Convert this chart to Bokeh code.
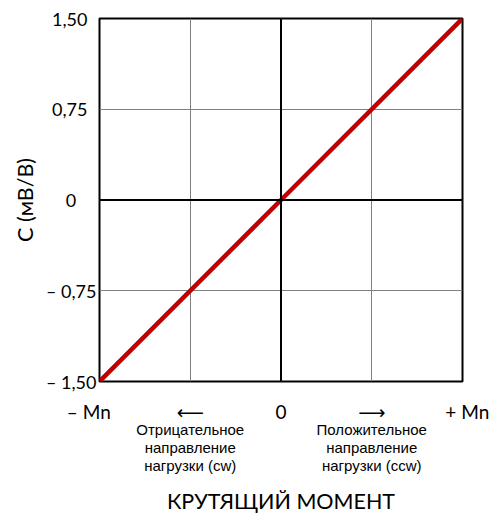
from bokeh.plotting import figure
from bokeh.models import Span, FixedTicker, Range1d, LinearAxis
from bokeh.embed import file_html
from bokeh.resources import INLINE

# ---- data ----
torque = [-1.0, 0.0, 1.0]            # -Mn .. +Mn
signal = [-1.5, 0.0, 1.5]            # mV/V
x_ticks = [-1.0, -0.5, 0.0, 0.5, 1.0]
x_tick_labels = ["– Mn\u2002\u2002\u2009", "⟵", "0", "⟶", "\u2002+ Mn"]
x_grid = [-1.0, -0.5, 0.0, 0.5, 1.0]
y_ticks = [-1.5, -0.75, 0.0, 0.75, 1.5]
# trailing en/thin spaces keep the right-aligned tick labels visually centred
y_tick_labels = ["– 1,50", "– 0,75", "0\u2002\u2002\u2009", "0,75\u2002", "1,50\u2002"]
note_ticks = [-0.5, 0.5]
note_labels = ["Отрицательное\nнаправление\nнагрузки (cw)",
               "Положительное\nнаправление\nнагрузки (ccw)"]
x_title = "КРУТЯЩИЙ МОМЕНТ"
y_title = "C (мВ/В)"

FONT = "Lato"

p = figure(frame_width=363, frame_height=363, output_backend="svg",
           toolbar_location=None,
           x_range=Range1d(-1, 1), y_range=Range1d(-1.5, 1.5),
           x_axis_location=None, y_axis_location=None,
           min_border_left=99, min_border_right=28, min_border_top=18,
           min_border_bottom=118)
p.outline_line_color = "black"
p.outline_line_width = 2
p.xgrid.ticker = FixedTicker(ticks=x_grid)
p.ygrid.ticker = FixedTicker(ticks=y_ticks)
p.grid.grid_line_color = "#808080"
p.grid.grid_line_width = 1


def clean(ax):
    ax.axis_line_color = None
    ax.major_tick_line_color = None
    ax.minor_tick_line_color = None
    ax.major_tick_out = 0
    ax.major_tick_in = 0
    ax.minor_tick_out = 0
    ax.minor_tick_in = 0
    ax.major_label_text_color = "black"
    ax.axis_label_text_color = "black"
    ax.axis_label_text_font_style = "normal"


yax = LinearAxis(ticker=FixedTicker(ticks=y_ticks),
                 major_label_overrides={v: t for v, t in zip(y_ticks, y_tick_labels)},
                 axis_label=y_title)
clean(yax)
yax.major_label_text_font = FONT + ", DejaVu Sans"
yax.major_label_text_font_size = "18px"
yax.major_label_standoff = 3
yax.axis_label_text_font = FONT
yax.axis_label_text_font_size = "21.5px"
yax.axis_label_standoff = 5
p.add_layout(yax, "left")

xax = LinearAxis(ticker=FixedTicker(ticks=x_ticks),
                 major_label_overrides={v: t for v, t in zip(x_ticks, x_tick_labels)})
clean(xax)
xax.major_label_text_font = FONT + ", DejaVu Sans"
xax.major_label_text_font_size = "19px"
xax.major_label_standoff = 18
p.add_layout(xax, "below")

nax = LinearAxis(ticker=FixedTicker(ticks=note_ticks),
                 major_label_overrides={v: t for v, t in zip(note_ticks, note_labels)},
                 axis_label=x_title)
clean(nax)
nax.major_label_text_font = "Liberation Sans"
nax.major_label_text_font_size = "15px"
nax.major_label_text_line_height = 1.08
nax.major_label_standoff = -5
nax.axis_label_text_font = FONT
nax.axis_label_text_font_size = "21.5px"
nax.axis_label_standoff = 11
p.add_layout(nax, "below")

p.add_layout(Span(location=0, dimension="height", line_color="black", line_width=2))
p.add_layout(Span(location=0, dimension="width", line_color="black", line_width=2))

p.line(torque, signal, line_color="#c00000", line_width=4.5)

open("out.html", "w").write(file_html(p, INLINE))
